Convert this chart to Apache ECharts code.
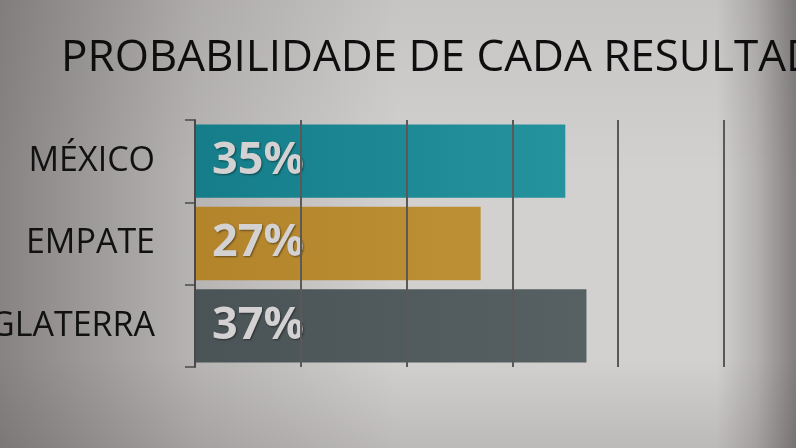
<!DOCTYPE html>
<html><head><meta charset="utf-8">
<script src="https://cdn.jsdelivr.net/npm/echarts@6/dist/echarts.min.js"></script>
<style>
html,body{margin:0;padding:0;}
#c{width:796px;height:448px;
background:
 linear-gradient(to right, rgba(60,55,55,0.5) 0%, rgba(60,55,55,0.18) 25%, rgba(0,0,0,0) 50%, rgba(0,0,0,0) 90%, rgba(60,55,55,0.2) 95%, rgba(50,45,45,0.5) 100%),
 linear-gradient(to bottom, rgba(0,0,0,0.06) 0%, rgba(0,0,0,0) 40%, rgba(0,0,0,0) 80%, rgba(60,55,55,0.15) 100%),
 #d3d0d0;}
</style></head>
<body><div id="c"></div>
<script>
const titleText = "PROBABILIDADE DE CADA RESULTADO";
const categories = ["MÉXICO", "EMPATE", "INGLATERRA"];
const values = [35, 27, 37];
const valueLabels = ["35%", "27%", "37%"];
const barColors = [["#147d89", "#25939d"], ["#b3842a", "#bd9036"], ["#4a5356", "#576164"]];

const chart = echarts.init(document.getElementById('c'), null, {renderer: 'canvas'});
chart.setOption({
  backgroundColor: 'transparent',
  animation: false,
  title: {
    text: titleText, left: 56, top: 31,
    textStyle: {fontFamily: 'Open Sans', fontSize: 44, fontWeight: 'normal', color: '#0e0e0e'}
  },
  grid: {left: 195, right: 72, top: 120, bottom: 81, containLabel: false, outerBoundsMode: 'none'},
  xAxis: {
    type: 'value', min: 0, max: 50, interval: 10, z: 3,
    axisLabel: {show: false}, axisLine: {show: false}, axisTick: {show: false},
    splitLine: {show: true, lineStyle: {color: '#5a5858', width: 2}}
  },
  yAxis: {
    type: 'category', data: categories, inverse: true, z: 4,
    axisLine: {show: true, lineStyle: {color: '#4a4848', width: 2}},
    axisTick: {show: true, length: 10, lineStyle: {color: '#4a4848', width: 1.5}},
    axisLabel: {margin: 40, fontFamily: 'Open Sans', fontSize: 34, color: '#111111'}
  },
  series: [{
    type: 'bar', z: 2,
    barCategoryGap: '11%',
    data: values.map((v, i) => ({
      value: v,
      itemStyle: {color: new echarts.graphic.LinearGradient(0, 0, 1, 0, [
        {offset: 0, color: barColors[i][0]}, {offset: 1, color: barColors[i][1]}])},
      label: {formatter: valueLabels[i]}
    })),
    label: {
      show: true, position: 'insideLeft', distance: 17,
      fontFamily: 'Open Sans', fontWeight: 'bold', fontSize: 45, color: '#d3d1d1',
      textShadowColor: 'rgba(0,0,0,0.45)', textShadowBlur: 2, textShadowOffsetX: 1, textShadowOffsetY: 1
    }
  }]
});
</script></body></html>
